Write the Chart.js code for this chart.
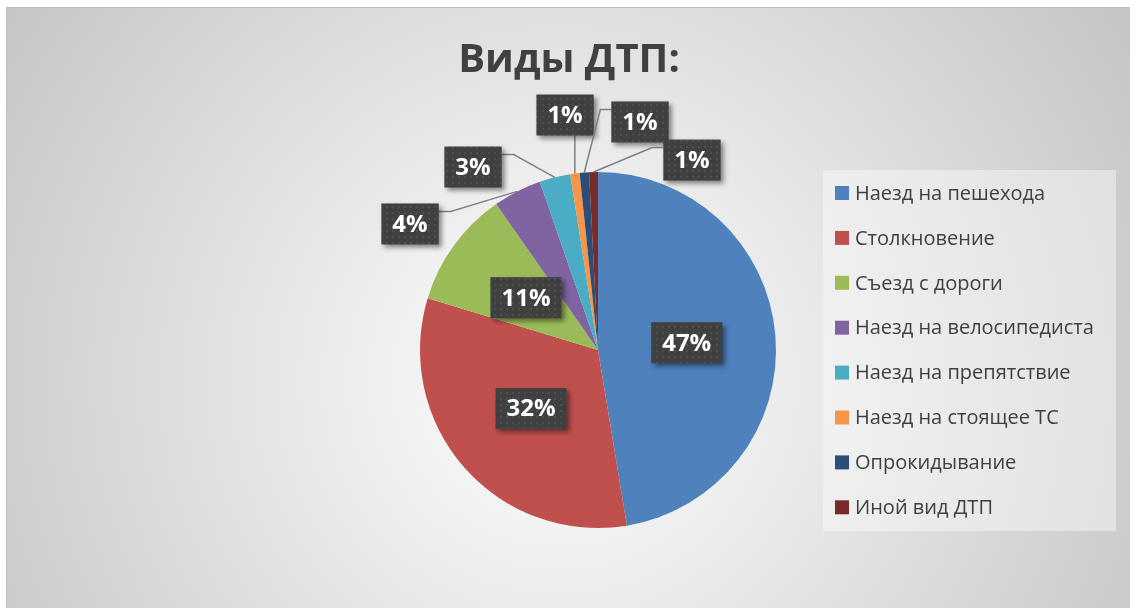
<!DOCTYPE html>
<html>
<head>
<meta charset="utf-8">
<script src="https://cdn.jsdelivr.net/npm/chart.js@4.4.1/dist/chart.umd.min.js"></script>
<style>
  html, body { margin: 0; padding: 0; background: #fff; }
  #wrap { position: relative; width: 1130px; height: 608px; }
</style>
</head>
<body>
<div id="wrap"><canvas id="myChart" width="1130" height="608"></canvas></div>
<script>
// данные
const categories = [
  "Наезд на пешехода",
  "Столкновение",
  "Съезд с дороги",
  "Наезд на велосипедиста",
  "Наезд на препятствие",
  "Наезд на стоящее ТС",
  "Опрокидывание",
  "Иной вид ДТП",
];
const shares = [47.4, 32.3, 10.6, 4.4, 2.8, 0.85, 0.85, 0.8];
const colors = ["#4f81bd", "#c0504d", "#9bbb59", "#8064a2", "#4bacc6", "#f79646", "#2c4d75", "#772c2a"];
const titleText = "Виды ДТП:";

// где стоят подписи маленьких долей (в долях радиуса от центра), null = внутри сектора
const labelSpots = [null, null, null, [-1.056, -0.708], [-0.702, -1.028], [-0.185, -1.32], [0.236, -1.281], [0.528, -1.067]];

const FONT = '"Open Sans", "Noto Sans", "DejaVu Sans", sans-serif';

// точечная заливка для плашек подписей
function makeDotPattern(ctx) {
  const c = document.createElement("canvas");
  c.width = 6;
  c.height = 6;
  const p = c.getContext("2d");
  p.fillStyle = "#404040";
  p.fillRect(0, 0, 6, 6);
  p.fillStyle = "#4e4e4e";
  p.fillRect(2, 2, 2, 2);
  return ctx.createPattern(c, "repeat");
}

const backgroundPlugin = {
  id: "bg",
  beforeDraw(chart) {
    const ctx = chart.ctx;
    ctx.save();
    ctx.fillStyle = "#ffffff";
    ctx.fillRect(0, 0, chart.width, chart.height);
    // радиальный градиент области диаграммы
    const g = ctx.createRadialGradient(560, 380, 0, 560, 380, 660);
    g.addColorStop(0, "#ffffff");
    g.addColorStop(1, "#c6c6c6");
    ctx.fillStyle = g;
    ctx.fillRect(6, 7, chart.width - 6, chart.height - 7);
    ctx.strokeStyle = "#bdbdbd";
    ctx.lineWidth = 1;
    ctx.beginPath();
    ctx.moveTo(6.5, chart.height);
    ctx.lineTo(6.5, 7.5);
    ctx.lineTo(chart.width, 7.5);
    ctx.stroke();

    // заголовок
    ctx.fillStyle = "#404040";
    ctx.font = "bold 40px " + FONT;
    ctx.textAlign = "center";
    ctx.textBaseline = "middle";
    ctx.fillText(titleText, 569, 61);

    // легенда
    ctx.fillStyle = "rgba(255,255,255,0.4)";
    ctx.fillRect(823, 170, 293, 361);
    ctx.font = "20px " + FONT;
    ctx.textAlign = "left";
    categories.forEach((name, i) => {
      const y = 193 + i * 44.9;
      ctx.fillStyle = colors[i];
      ctx.fillRect(835, y - 7, 14, 14);
      ctx.fillStyle = "#404040";
      ctx.fillText(name, 855, y + 1);
    });
    ctx.restore();
  },
};

const labelPlugin = {
  id: "pieLabels",
  afterDatasetsDraw(chart) {
    const ctx = chart.ctx;
    const meta = chart.getDatasetMeta(0);
    const total = shares.reduce((a, b) => a + b, 0);
    const pattern = makeDotPattern(ctx);
    ctx.save();
    ctx.font = "bold 24px " + FONT;
    ctx.textAlign = "center";
    ctx.textBaseline = "middle";

    meta.data.forEach((arc, i) => {
      const text = Math.round((shares[i] / total) * 100) + "%";
      const r = arc.outerRadius;
      const mid = (arc.startAngle + arc.endAngle) / 2;
      let cx, cy;
      if (labelSpots[i]) {
        cx = arc.x + labelSpots[i][0] * r;
        cy = arc.y + labelSpots[i][1] * r;
      } else {
        cx = arc.x + Math.cos(mid) * r * 0.5;
        cy = arc.y + Math.sin(mid) * r * 0.5;
      }
      const w = ctx.measureText(text).width + 22;
      const h = 41;
      const left = cx - w / 2;
      const top = cy - h / 2;

      // линия выноски
      if (labelSpots[i]) {
        const ax = arc.x + Math.cos(mid) * r;
        const ay = arc.y + Math.sin(mid) * r;
        ctx.strokeStyle = "#808080";
        ctx.lineWidth = 1.5;
        ctx.beginPath();
        if (ax > left && ax < left + w) {
          ctx.moveTo(ax, top + h);
          ctx.lineTo(ax, ay);
        } else if (ax >= left + w) {
          ctx.moveTo(left + w, top + 8);
          ctx.lineTo(left + w + 12, top + 8);
          ctx.lineTo(ax, ay);
        } else {
          ctx.moveTo(left, top + 8);
          ctx.lineTo(left - 11, top + 8);
          ctx.lineTo(ax, ay);
        }
        ctx.stroke();
      }

      // плашка с тенью
      ctx.save();
      ctx.shadowColor = "rgba(0,0,0,0.45)";
      ctx.shadowBlur = 5;
      ctx.shadowOffsetX = 3;
      ctx.shadowOffsetY = 3;
      ctx.fillStyle = pattern;
      ctx.fillRect(left, top, w, h);
      ctx.restore();

      ctx.fillStyle = "#ffffff";
      ctx.fillText(text, cx, cy + 1);
    });
    ctx.restore();
  },
};

const newChart = new Chart(document.getElementById("myChart").getContext("2d"), {
  type: "pie",
  data: {
    labels: categories,
    datasets: [
      {
        data: shares,
        backgroundColor: colors,
        borderWidth: 0,
      },
    ],
  },
  options: {
    responsive: false,
    animation: false,
    layout: {
      padding: { top: 172, bottom: 80, left: 420, right: 354 },
    },
    plugins: {
      legend: { display: false },
      tooltip: { enabled: false },
      title: { display: false },
    },
  },
  plugins: [backgroundPlugin, labelPlugin],
});
</script>
</body>
</html>
